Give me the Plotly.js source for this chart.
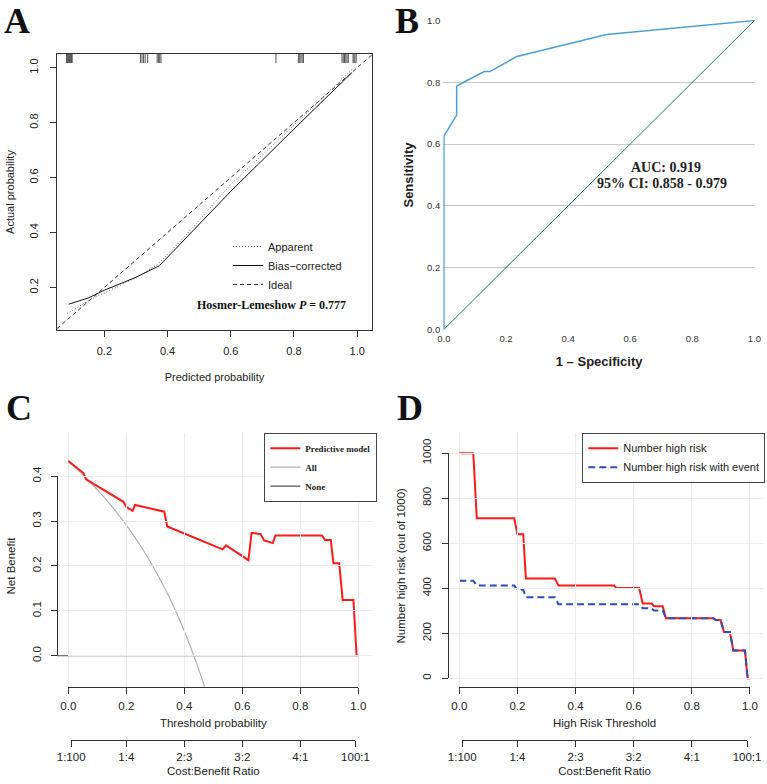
<!DOCTYPE html>
<html><head><meta charset="utf-8">
<script src="https://cdn.plot.ly/plotly-3.0.1.min.js"></script>
<style>html,body{margin:0;padding:0;background:#fff;}#chart{width:767px;height:784px;}</style>
</head><body><div id="chart"></div>
<script>
// ---------- Panel A: calibration ----------
const rugX = [0.080,0.082,0.084,0.086,0.088,0.090,0.092,0.094,0.096,0.098,
  0.314,0.319,0.324,0.329,0.337,0.367,0.371,0.375,0.379,0.743,
  0.814,0.818,0.822,0.826,0.830,0.952,0.956,0.960,0.964,0.968,0.972,0.987,0.990,0.993,0.997];
const apparentX = [0.082,0.17,0.2,0.3,0.37,0.45,0.6,0.8,0.989];
const apparentY = [0.105,0.165,0.18,0.235,0.285,0.38,0.575,0.79,1.0];
const biasX = [0.087,0.15,0.2,0.3,0.374,0.45,0.6,0.8,0.984];
const biasY = [0.139,0.162,0.19,0.237,0.279,0.37,0.55,0.777,0.983];
const idealX = [0,1.1];
const idealY = [0,1.1];
const hlText = "Hosmer-Lemeshow";
const hlP = "0.777";

// ---------- Panel B: ROC ----------
const rocX = [0,0,0.041,0.041,0.059,0.130,0.148,0.235,0.524,1];
const rocY = [0,0.626,0.694,0.788,0.798,0.835,0.835,0.884,0.955,1];
const refX = [0,1];
const refY = [0,1];
const aucText = "AUC: 0.919";
const ciText = "95% CI: 0.858 - 0.979";

// ---------- Panel C: decision curve ----------
const modelX = [0,0.052,0.061,0.19,0.201,0.222,0.23,0.331,0.341,0.532,0.544,0.621,0.632,0.663,0.675,0.705,0.714,0.874,0.885,0.905,0.914,0.934,0.946,0.983,0.994];
const modelY = [0.434,0.407,0.393,0.343,0.331,0.323,0.336,0.321,0.288,0.237,0.246,0.213,0.274,0.271,0.257,0.251,0.268,0.268,0.258,0.258,0.206,0.206,0.124,0.124,0];
const allX = [0,0.05,0.10,0.15,0.20,0.25,0.30,0.35,0.40,0.45,0.47];
const allY = [0.433,0.403,0.370,0.333,0.291,0.244,0.190,0.128,0.055,-0.031,-0.070];
const noneX = [-0.04,1];
const noneY = [0,0];

// ---------- Panel D: clinical impact ----------
const riskX = [0,0.048,0.060,0.189,0.2,0.22,0.229,0.329,0.341,0.533,0.541,0.619,0.631,0.662,0.670,0.700,0.711,0.874,0.882,0.899,0.911,0.931,0.943,0.983,0.992,1.0];
const riskY = [1000,1000,711,711,640,640,444,444,412,412,401,401,332,332,320,320,267,267,259,259,206,206,124,124,0,0];
const eventX = [0,0.048,0.060,0.189,0.2,0.22,0.229,0.329,0.341,0.619,0.631,0.662,0.670,0.700,0.711,0.874,0.882,0.899,0.911,0.931,0.943,0.983,0.992,1.0];
const eventY = [434,434,412,412,393,393,360,360,329,329,311,311,301,301,267,267,259,259,206,206,124,124,0,0];

// cost:benefit ratio axis
const cbVals = [1/101,0.2,0.4,0.6,0.8,100/101];
const cbText = ["1:100","1:4","2:3","3:2","4:1","100:1"];

// ---------- layout geometry (pixels) ----------
const W=767,H=784;
const X=p=>p/W, Y=p=>1-p/H;
const pA={x0:57,x1:372,y0:54,y1:330,xr:[0.05,1.047],yr:[0.045,1.05]};
const pB={x0:443.3,x1:755,y0:20,y1:330,xr:[-0.002,1.002],yr:[-0.002,1.002]};
const pC={x0:56.7,x1:371.7,y0:432.7,y1:686.7,xr:[-0.04,1.046],yr:[-0.069,0.497]};
const pD={x0:448,x1:762.7,y0:432.7,y1:686.7,xr:[-0.039,1.044],yr:[-37,1091]};
const xpix=(p,v)=>p.x0+(v-p.xr[0])/(p.xr[1]-p.xr[0])*(p.x1-p.x0);
const ypix=(p,v)=>p.y1-(v-p.yr[0])/(p.yr[1]-p.yr[0])*(p.y1-p.y0);
const xdom=p=>[X(p.x0),X(p.x1)];
const ydom=p=>[Y(p.y1),Y(p.y0)];

const sans="Liberation Sans, Arial, sans-serif";
const serif="Liberation Serif, Times New Roman, serif";
const ink="#222";

const traces=[
  // A
  {x:idealX,y:idealY,xaxis:'x',yaxis:'y',mode:'lines',name:'Ideal',legend:'legend',legendrank:3,
   line:{color:'#333',width:1,dash:'4px,3px'}},
  {x:apparentX,y:apparentY,xaxis:'x',yaxis:'y',mode:'lines',name:'Apparent',legend:'legend',legendrank:1,
   line:{color:'#666',width:1,dash:'1px,2px'}},
  {x:biasX,y:biasY,xaxis:'x',yaxis:'y',mode:'lines',name:'Bias\u2212corrected',legend:'legend',legendrank:2,
   line:{color:'#111',width:1}},
  {x:rugX,y:rugX.map(()=>1.035),xaxis:'x',yaxis:'y',mode:'markers',showlegend:false,
   marker:{symbol:'line-ns-open',size:7,color:'#555',line:{color:'#555',width:1}}},
  // B
  {x:refX,y:refY,xaxis:'x2',yaxis:'y2',mode:'lines',showlegend:false,line:{color:'#1f7a6c',width:1}},
  {x:rocX,y:rocY,xaxis:'x2',yaxis:'y2',mode:'lines',showlegend:false,line:{color:'#4a9fd8',width:1.5}},
  // C
  {x:noneX,y:noneY,xaxis:'x3',yaxis:'y3',mode:'lines',name:'None',legend:'legend2',legendrank:3,
   line:{color:'#555',width:1.2}},
  {x:allX,y:allY,xaxis:'x3',yaxis:'y3',mode:'lines',name:'All',legend:'legend2',legendrank:2,
   line:{color:'#b0b0b0',width:1.2,shape:'spline'}},
  {x:modelX,y:modelY,xaxis:'x3',yaxis:'y3',mode:'lines',name:'Predictive model',legend:'legend2',legendrank:1,
   line:{color:'#ff1a1a',width:2}},
  {x:[],y:[],xaxis:'x5',yaxis:'y3',showlegend:false},
  {x:[],y:[],xaxis:'x6',yaxis:'y3',showlegend:false},
  {x:[],y:[],xaxis:'x3',yaxis:'y5',showlegend:false},
  // D
  {x:riskX,y:riskY,xaxis:'x4',yaxis:'y4',mode:'lines',name:'Number high risk',legend:'legend3',
   line:{color:'#ff1a1a',width:2}},
  {x:eventX,y:eventY,xaxis:'x4',yaxis:'y4',mode:'lines',name:'Number high risk with event',legend:'legend3',
   line:{color:'#2b4bc4',width:2,dash:'7px,4px'}},
  {x:[],y:[],xaxis:'x7',yaxis:'y4',showlegend:false},
  {x:[],y:[],xaxis:'x8',yaxis:'y4',showlegend:false},
  {x:[],y:[],xaxis:'x4',yaxis:'y6',showlegend:false}
];

const tf=(s)=>({family:sans,size:s,color:ink});
const rAxis=(o)=>Object.assign({showline:true,linecolor:'#333',linewidth:1,ticks:'outside',ticklen:6,
  tickcolor:'#333',tickwidth:1,showgrid:false,zeroline:false,tickfont:tf(11.5)},o);
const hidden=(o)=>Object.assign({showline:false,ticks:'',showticklabels:false,zeroline:false,
  showgrid:true,gridcolor:'#ebebeb',gridwidth:1},o);

const layout={
  width:W,height:H,margin:{l:0,r:0,t:0,b:0},autosize:false,
  paper_bgcolor:'#fff',plot_bgcolor:'rgba(0,0,0,0)',hovermode:false,
  // A
  xaxis:rAxis({domain:xdom(pA),range:pA.xr,anchor:'y',mirror:true,tickvals:[0.2,0.4,0.6,0.8,1.0],
    tickformat:'.1f',tickfont:tf(11),ticklabelstandoff:5,title:{text:'Predicted probability',font:tf(11),standoff:17}}),
  yaxis:rAxis({domain:ydom(pA),range:pA.yr,anchor:'x',mirror:true,tickvals:[0.2,0.4,0.6,0.8,1.0],
    tickformat:'.1f',tickangle:-90,tickfont:tf(11),ticklabelstandoff:8,title:{text:'Actual probability',font:tf(11),standoff:10}}),
  // B
  xaxis2:{domain:xdom(pB),range:pB.xr,anchor:'y2',showline:false,ticks:'',zeroline:false,showgrid:false,
    tickvals:[0,0.2,0.4,0.6,0.8,1.0],tickformat:'.1f',tickfont:{family:sans,size:9.5,color:'#333'},ticklabelstandoff:1,
    title:{text:'<b>1 \u2013 Specificity</b>',font:{family:sans,size:13,color:'#222'},standoff:14}},
  yaxis2:{domain:ydom(pB),range:pB.yr,anchor:'x2',showline:false,ticks:'',zeroline:false,showgrid:true,
    gridcolor:'#c8c8c8',gridwidth:1,tickvals:[0,0.2,0.4,0.6,0.8,1.0],tickformat:'.1f',ticklabelstandoff:2,
    tickfont:{family:sans,size:9.5,color:'#333'},
    title:{text:'<b>Sensitivity</b>',font:{family:sans,size:13,color:'#222'},standoff:10}},
  // C data axes
  xaxis3:hidden({domain:xdom(pC),range:pC.xr,anchor:'y3',tickvals:[0,0.2,0.4,0.6,0.8,1.0]}),
  yaxis3:hidden({domain:ydom(pC),range:pC.yr,anchor:'x3',tickvals:[0,0.1,0.2,0.3,0.4]}),
  xaxis5:rAxis({domain:[X(xpix(pC,0)),X(xpix(pC,1))],range:[0,1],anchor:'free',position:Y(pC.y1),
    tickvals:[0,0.2,0.4,0.6,0.8,1.0],tickformat:'.1f',ticklabelstandoff:2,
    title:{text:'Threshold probability',font:tf(11.5),standoff:8}}),
  xaxis6:rAxis({domain:[X(xpix(pC,cbVals[0])),X(xpix(pC,cbVals[5]))],range:[cbVals[0],cbVals[5]],anchor:'free',
    position:Y(740),tickvals:cbVals,ticktext:cbText,ticklabelstandoff:5.5,
    title:{text:'Cost:Benefit Ratio',font:tf(11.5),standoff:4.5}}),
  yaxis5:rAxis({domain:[Y(ypix(pC,0)),Y(ypix(pC,0.4))],range:[0,0.4],anchor:'free',position:X(pC.x0),
    tickvals:[0,0.1,0.2,0.3,0.4],tickformat:'.1f',tickangle:-90,ticklabelstandoff:5,
    title:{text:'Net Benefit',font:tf(11.5),standoff:12}}),
  // D data axes
  xaxis4:hidden({domain:xdom(pD),range:pD.xr,anchor:'y4',tickvals:[0,0.2,0.4,0.6,0.8,1.0]}),
  yaxis4:hidden({domain:ydom(pD),range:pD.yr,anchor:'x4',tickvals:[0,200,400,600,800,1000]}),
  xaxis7:rAxis({domain:[X(xpix(pD,0)),X(xpix(pD,1))],range:[0,1],anchor:'free',position:Y(pD.y1),
    tickvals:[0,0.2,0.4,0.6,0.8,1.0],tickformat:'.1f',ticklabelstandoff:2,
    title:{text:'High Risk Threshold',font:tf(11.5),standoff:8}}),
  xaxis8:rAxis({domain:[X(xpix(pD,cbVals[0])),X(xpix(pD,cbVals[5]))],range:[cbVals[0],cbVals[5]],anchor:'free',
    position:Y(740),tickvals:cbVals,ticktext:cbText,ticklabelstandoff:5.5,
    title:{text:'Cost:Benefit Ratio',font:tf(11.5),standoff:4.5}}),
  yaxis6:rAxis({domain:[Y(ypix(pD,0)),Y(ypix(pD,1000))],range:[0,1000],anchor:'free',position:X(pD.x0),
    tickvals:[0,200,400,600,800,1000],tickangle:-90,ticklabelstandoff:6,
    title:{text:'Number high risk (out of 1000)',font:tf(11.5),standoff:12}}),
  // legends
  legend:{x:X(228),y:Y(232),xanchor:'left',yanchor:'top',bgcolor:'rgba(0,0,0,0)',borderwidth:0,
    font:{family:sans,size:11,color:ink},tracegroupgap:0},
  legend2:{x:X(264.3),y:Y(432.7),xanchor:'left',yanchor:'top',bgcolor:'#fff',bordercolor:'#444',borderwidth:1,
    font:{family:serif,size:9,color:ink,weight:'bold'}},
  legend3:{x:X(582.3),y:Y(432.7),xanchor:'left',yanchor:'top',bgcolor:'#fff',bordercolor:'#444',borderwidth:1,
    font:{family:sans,size:11,color:ink}},
  annotations:[
    {text:'<b>A</b>',xref:'paper',yref:'paper',x:X(3),y:Y(0),xanchor:'left',yanchor:'top',showarrow:false,borderpad:0,
     font:{family:serif,size:36,color:'#111'}},
    {text:'<b>B</b>',xref:'paper',yref:'paper',x:X(394),y:Y(0),xanchor:'left',yanchor:'top',showarrow:false,borderpad:0,
     font:{family:serif,size:36,color:'#111'}},
    {text:'<b>C</b>',xref:'paper',yref:'paper',x:X(5),y:Y(386.5),xanchor:'left',yanchor:'top',showarrow:false,borderpad:0,
     font:{family:serif,size:36,color:'#111'}},
    {text:'<b>D</b>',xref:'paper',yref:'paper',x:X(396),y:Y(387),xanchor:'left',yanchor:'top',showarrow:false,borderpad:0,
     font:{family:serif,size:36,color:'#111'}},
    {text:'<b>'+hlText+' <i>P</i> = '+hlP+'</b>',xref:'paper',yref:'paper',x:X(271.7),y:Y(304.7),
     xanchor:'center',yanchor:'middle',showarrow:false,font:{family:serif,size:12,color:'#111'}},
    {text:'<b>'+aucText+'</b>',xref:'paper',yref:'paper',x:X(666),y:Y(167.8),xanchor:'center',yanchor:'middle',
     showarrow:false,font:{family:serif,size:14,color:'#222'}},
    {text:'<b>'+ciText+'</b>',xref:'paper',yref:'paper',x:X(661.7),y:Y(183.7),xanchor:'center',yanchor:'middle',
     showarrow:false,font:{family:serif,size:14,color:'#222'}}
  ]
};
Plotly.newPlot('chart',traces,layout,{staticPlot:true,displayModeBar:false});
</script></body></html>
